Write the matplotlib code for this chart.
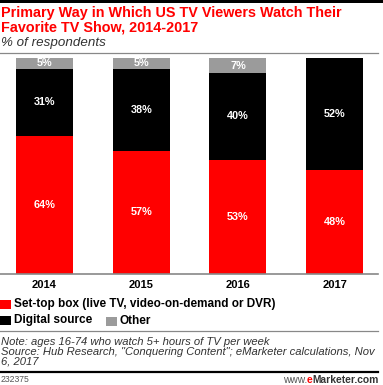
import numpy as np
import matplotlib
matplotlib.use("Agg")
import matplotlib.pyplot as plt
from matplotlib.patches import Rectangle
from matplotlib.lines import Line2D

W, H = 383, 385

years = ["2014", "2015", "2016", "2017"]
settop = [64, 57, 53, 48]
digital = [31, 38, 40, 52]
other = [5, 5, 7, 0]

RED = "#ff0000"
BLACK = "#000000"
GRAY = "#9b9b9b"

plt.rcParams["font.family"] = ["Liberation Sans", "DejaVu Sans"]

fig = plt.figure(figsize=(W / 100, H / 100), dpi=100)


def fx(px):
    return px / W


def fy(py):
    return 1 - py / H


# top black band
fig.add_artist(Rectangle((0, fy(3)), 1, 3 / H, transform=fig.transFigure,
                         color="black", lw=0))

fig.text(fx(1), fy(17.5), "Primary Way in Which US TV Viewers Watch Their",
         color=RED, fontsize=10.4, fontweight="bold", va="baseline")
fig.text(fx(1), fy(31), "Favorite TV Show, 2014-2017",
         color=RED, fontsize=10.4, fontweight="bold", va="baseline")
fig.text(fx(1), fy(46), "% of respondents", color="#333333",
         fontsize=9.6, style="italic", va="baseline")
fig.add_artist(Line2D([0, fx(378)], [fy(52.5), fy(52.5)], color="#888888", lw=0.9))

# bars
ax = fig.add_axes([0, fy(274), fx(378), 216 / H])
x = np.arange(len(years))
width = 0.59
ax.bar(x, settop, width, color=RED)
ax.bar(x, digital, width, bottom=settop, color=BLACK)
bottom2 = np.array(settop) + np.array(digital)
ax.bar(x, other, width, bottom=bottom2, color=GRAY)

for i in range(len(years)):
    ax.text(x[i], settop[i] / 2, f"{settop[i]}%", color="white", fontsize=7.8,
            fontweight="bold", ha="center", va="center")
    ax.text(x[i], settop[i] + digital[i] / 2, f"{digital[i]}%", color="white",
            fontsize=7.8, fontweight="bold", ha="center", va="center")
    if other[i] > 0:
        ax.text(x[i], bottom2[i] + other[i] / 2, f"{other[i]}%", color="white",
                fontsize=7.8, fontweight="bold", ha="center", va="center")

ax.set_xlim(-0.46, 3.449)
ax.set_ylim(0, 100)
ax.set_yticks([])
ax.set_xticks(x)
ax.set_xticklabels(years, fontsize=8, fontweight="bold")
ax.tick_params(axis="x", length=0, pad=4)
for s in ["top", "left", "right"]:
    ax.spines[s].set_visible(False)
ax.spines["bottom"].set_color("#888888")
ax.spines["bottom"].set_linewidth(1.2)

# legend
fig.add_artist(Rectangle((0, fy(309)), fx(11), 9 / H, transform=fig.transFigure,
                         color=RED, lw=0))
fig.text(fx(14), fy(304), "Set-top box (live TV, video-on-demand or DVR)",
         fontsize=8.5, fontweight="bold", va="center")
fig.add_artist(Rectangle((0, fy(325)), fx(11), 9 / H, transform=fig.transFigure,
                         color=BLACK, lw=0))
fig.text(fx(14), fy(320), "Digital source", fontsize=8.5, fontweight="bold",
         va="center")
fig.add_artist(Rectangle((fx(106), fy(326)), fx(11), 9 / H,
                         transform=fig.transFigure, color=GRAY, lw=0))
fig.text(fx(120), fy(321), "Other", fontsize=8.5, fontweight="bold", va="center")

fig.add_artist(Line2D([0, fx(378)], [fy(331), fy(331)], color="#888888", lw=0.9))

fig.text(fx(1), fy(342), "Note: ages 16-74 who watch 5+ hours of TV per week",
         fontsize=8.1, style="italic", color="#333333", va="center")
fig.text(fx(1), fy(352),
         "Source: Hub Research, \"Conquering Content\"; eMarketer calculations, Nov",
         fontsize=8.1, style="italic", color="#333333", va="center")
fig.text(fx(1), fy(362), "6, 2017", fontsize=8.1, style="italic",
         color="#333333", va="center")

fig.add_artist(Line2D([0, fx(378)], [fy(372), fy(372)], color="black", lw=1.6))
fig.text(fx(1), fy(380), "232375", fontsize=6.2, color="#555555", va="center")
# right-aligned site name built from pieces
t3 = fig.text(fx(379), fy(380), "Marketer.com", fontsize=7.4, color="#333333",
              va="center", ha="right", fontweight="bold")
fig.canvas.draw()
bb = t3.get_window_extent()
t2 = fig.text(bb.x0 / W, fy(380), "e", fontsize=7.4, color=RED, va="center",
              ha="right", fontweight="bold")
bb2 = t2.get_window_extent()
fig.text(bb2.x0 / W, fy(380), "www.", fontsize=7.4, color="#555555",
         va="center", ha="right")

fig.savefig("out.png", dpi=100)
